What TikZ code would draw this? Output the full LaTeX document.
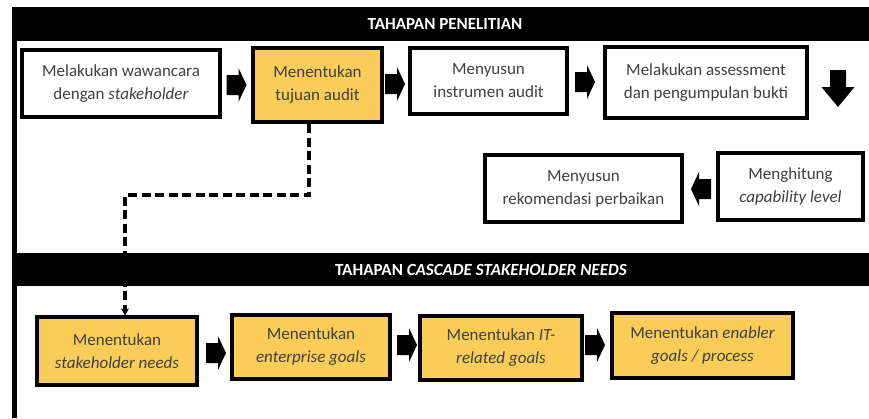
\documentclass[tikz,border=0pt]{standalone}
\usepackage{fontspec}
\setmainfont{Carlito}
\usetikzlibrary{arrows.meta}
\definecolor{goldbox}{RGB}{249,205,88}
\definecolor{txtgray}{RGB}{64,64,64}
\tikzset{
  stepbox/.style={draw=black, line width=3.2pt, fill=white, text=txtgray, align=center,
    inner sep=0pt, font=\fontsize{17}{23}\selectfont},
  goldstep/.style={stepbox, fill=goldbox},
  barlabel/.style={text=white, font=\fontsize{17}{19}\selectfont\bfseries},
  dashlink/.style={line width=4pt, dash pattern=on 9pt off 4.5pt, -{Stealth[length=7pt,width=8pt]}},
  pics/rarr/.style={code={
    \fill[black] (-10,-10) -- (2,-10) -- (2,-17) -- (10,0) -- (2,17) -- (2,10) -- (-10,10) -- cycle;}},
  pics/darr/.style={code={
    \fill[black] (-8,-18) -- (8,-18) -- (8,-1) -- (16.5,-1) -- (0,19) -- (-16.5,-1) -- (-8,-1) -- cycle;}}
}
\begin{document}
\begin{tikzpicture}[x=1pt,y=-1pt]
\useasboundingbox (0,0) rectangle (869,418);
% frame
\fill[black] (12,7) rectangle (869,41);
\fill[black] (12,253) rectangle (869,286);
\fill[black] (12,41) rectangle (17,253);
\fill[black] (12,286) rectangle (17,418);
\node[barlabel] (t1) at (445,24) {TAHAPAN PENELITIAN};
\node[barlabel] (t2) at (481,270) {TAHAPAN \textit{CASCADE STAKEHOLDER NEEDS}};
% row 1
\node[stepbox, minimum width=198, minimum height=67] (B1) at (121,83.5) {Melakukan wawancara\\dengan \textit{stakeholder}};
\node[goldstep, line width=4pt, minimum width=129, minimum height=74] (B2) at (317.5,85) {Menentukan\\tujuan audit};
\node[stepbox, minimum width=157, minimum height=66] (B3) at (488.5,81) {Menyusun\\instrumen audit};
\node[stepbox, minimum width=202, minimum height=71] (B4) at (706,82.5) {Melakukan assessment\\dan pengumpulan bukti};
\pic at (236.5,85) {rarr};
\pic at (395,84) {rarr};
\pic at (585,82) {rarr};
\pic at (838,88) {darr};
% row 2
\node[stepbox, minimum width=197, minimum height=67] (B5) at (583.5,188.5) {Menyusun\\rekomendasi perbaikan};
\node[stepbox, minimum width=145, minimum height=67] (B6) at (790.5,186.5) {Menghitung\\\textit{capability level}};
\pic[xscale=-1] at (701,189) {rarr};
% row 3
\node[goldstep, minimum width=160, minimum height=68] (B7) at (117,351) {Menentukan\\\textit{stakeholder needs}};
\node[goldstep, minimum width=158, minimum height=64] (B8) at (311,347) {Menentukan\\\textit{enterprise goals}};
\node[goldstep, minimum width=162, minimum height=64] (B9) at (501,348) {Menentukan \textit{IT-}\\\textit{related goals}};
\node[goldstep, minimum width=181, minimum height=65] (B10) at (702.5,345.5) {Menentukan \textit{enabler}\\\textit{goals / process}};
\pic at (216,353) {rarr};
\pic at (407,345) {rarr};
\pic at (595,345) {rarr};
% dashed link
\coordinate (bend1) at (309,195);
\coordinate (bend2) at (125,195);
\draw[dashlink] (B2.south -| bend1) -- (bend1) -- (bend2) -- (bend2 |- B7.north);
\end{tikzpicture}
\end{document}
